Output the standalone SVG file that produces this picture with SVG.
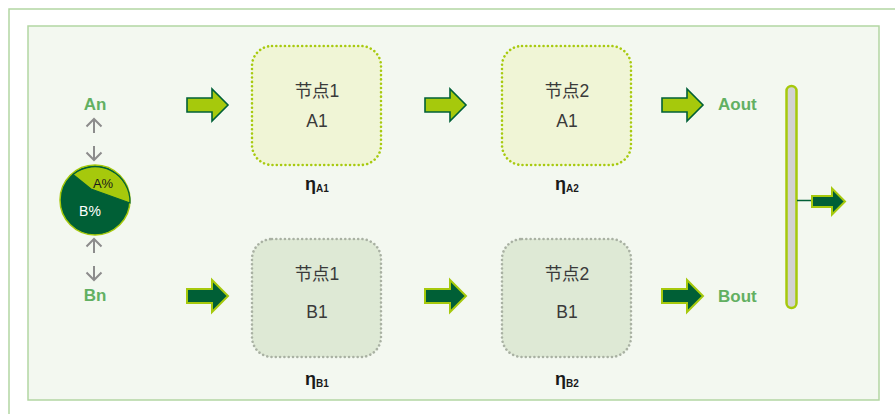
<svg xmlns="http://www.w3.org/2000/svg" width="895" height="414" viewBox="0 0 895 414">
  <defs>
    <style>
      .frame-outer { fill: #ffffff; stroke: #b3d6a3; stroke-width: 1.5; }
      .frame-inner { fill: #f3f8f0; stroke: #b3d6a3; stroke-width: 1.5; }
      .node-a { fill: #f0f5d6; stroke: #a8ca10; stroke-width: 2.6; stroke-dasharray: 0.01 4.3; stroke-linecap: round; }
      .node-b { fill: #dee9d5; stroke: #a9b1a3; stroke-width: 2.6; stroke-dasharray: 0.01 4.3; stroke-linecap: round; }
      .node-text { font-family: "Liberation Sans", "Noto Sans CJK SC", sans-serif; font-size: 17.5px; fill: #3a3a3a; text-anchor: middle; }
      .eta { font-family: "Liberation Sans", "Noto Sans CJK SC", sans-serif; font-weight: bold; font-size: 18px; fill: #1a1a1a; text-anchor: middle; }
      .eta-sub { font-size: 10px; }
      .io-label { font-family: "Liberation Sans", sans-serif; font-weight: bold; font-size: 17px; fill: #62b062; }
      .arrow-a { fill: #a6c90c; stroke: #006037; stroke-width: 1.6; stroke-linejoin: miter; }
      .arrow-b { fill: #005f36; stroke: #a6c90c; stroke-width: 2; stroke-linejoin: miter; }
      .small-arrow { fill: none; stroke: #8c8c8c; stroke-width: 2; stroke-linecap: butt; stroke-linejoin: miter; }
      .pie-text { font-family: "Liberation Sans", sans-serif; text-anchor: middle; }
    </style>
    <!-- block arrow, tail at origin, pointing right -->
    <path id="block-arrow" d="M0,-7 H25 V-16 L41,0 L25,16 V7 H0 Z"/>
    <path id="block-arrow-small" d="M0,-5.5 H20 V-13 L33,0 L20,13 V5.5 H0 Z"/>
    <path id="up-chevron" d="M-7.5,7.5 L0,0 L7.5,7.5 M0,0 V14"/>
  </defs>

  <!-- frames -->
  <rect class="frame-outer" x="9" y="9" width="900" height="420"/>
  <rect class="frame-inner" x="28" y="26" width="851" height="374"/>

  <!-- mix pie with input labels -->
  <g id="mix">
    <text class="io-label" x="95" y="110" text-anchor="middle">An</text>
    <text class="io-label" x="95" y="301" text-anchor="middle">Bn</text>
    <path d="M95,200 m-35,0 a35,35 0 1,0 70,0 a35,35 0 1,0 -70,0 Z" fill="#005f36" stroke="#a6c90c" stroke-width="1.5"/>
    <path d="M91,189 L73,174.5 A35,35 0 0,1 130,203 Z" fill="#a6c90c" stroke="#006037" stroke-width="1.2"/>
    <text class="pie-text" x="103" y="188" fill="#1a1a1a" font-size="13">A%</text>
    <text class="pie-text" x="90" y="216" fill="#ffffff" font-size="14">B%</text>
    <!-- exchange arrows above and below -->
    <use href="#up-chevron" class="small-arrow" x="94" y="119"/>
    <use href="#up-chevron" class="small-arrow" transform="translate(94,160) scale(1,-1)"/>
    <use href="#up-chevron" class="small-arrow" x="94" y="239"/>
    <use href="#up-chevron" class="small-arrow" transform="translate(94,280) scale(1,-1)"/>
  </g>

  <!-- stage nodes -->
  <g id="node-a1">
    <rect class="node-a" x="252" y="46" width="129" height="119" rx="20"/>
    <text class="node-text" x="317" y="97">节点1</text>
    <text class="node-text" x="317" y="127">A1</text>
  </g>
  <g id="node-a2">
    <rect class="node-a" x="502" y="46" width="129" height="119" rx="20"/>
    <text class="node-text" x="567" y="97">节点2</text>
    <text class="node-text" x="567" y="127">A1</text>
  </g>
  <g id="node-b1">
    <rect class="node-b" x="252" y="239" width="129" height="118" rx="20"/>
    <text class="node-text" x="317" y="280">节点1</text>
    <text class="node-text" x="317" y="318">B1</text>
  </g>
  <g id="node-b2">
    <rect class="node-b" x="502" y="239" width="129" height="118" rx="20"/>
    <text class="node-text" x="567" y="280">节点2</text>
    <text class="node-text" x="567" y="318">B1</text>
  </g>

  <!-- efficiency labels -->
  <g id="eta-labels">
    <text class="eta" x="317" y="190">η<tspan class="eta-sub" dy="2">A1</tspan></text>
    <text class="eta" x="567" y="190">η<tspan class="eta-sub" dy="2">A2</tspan></text>
    <text class="eta" x="317" y="385">η<tspan class="eta-sub" dy="2">B1</tspan></text>
    <text class="eta" x="567" y="385">η<tspan class="eta-sub" dy="2">B2</tspan></text>
  </g>

  <!-- outputs and collector -->
  <g id="outputs">
    <text class="io-label" x="718" y="110">Aout</text>
    <text class="io-label" x="718" y="302">Bout</text>
  </g>
  <g id="collector">
    <rect x="786.5" y="86" width="10" height="222" rx="5" fill="#d2d2d2" stroke="#a6c90c" stroke-width="2.5"/>
  </g>

  <!-- connectors -->
  <g id="connectors">
    <use href="#block-arrow" class="arrow-a" x="187" y="105"/>
    <use href="#block-arrow" class="arrow-a" x="425" y="105"/>
    <use href="#block-arrow" class="arrow-a" x="662" y="105"/>
    <use href="#block-arrow" class="arrow-b" x="187" y="296"/>
    <use href="#block-arrow" class="arrow-b" x="425" y="296"/>
    <use href="#block-arrow" class="arrow-b" x="662" y="296"/>
    <line x1="797" y1="200.5" x2="812" y2="200.5" stroke="#005f36" stroke-width="1.5"/>
    <use href="#block-arrow-small" class="arrow-b" x="812" y="201.5"/>
  </g>
</svg>
